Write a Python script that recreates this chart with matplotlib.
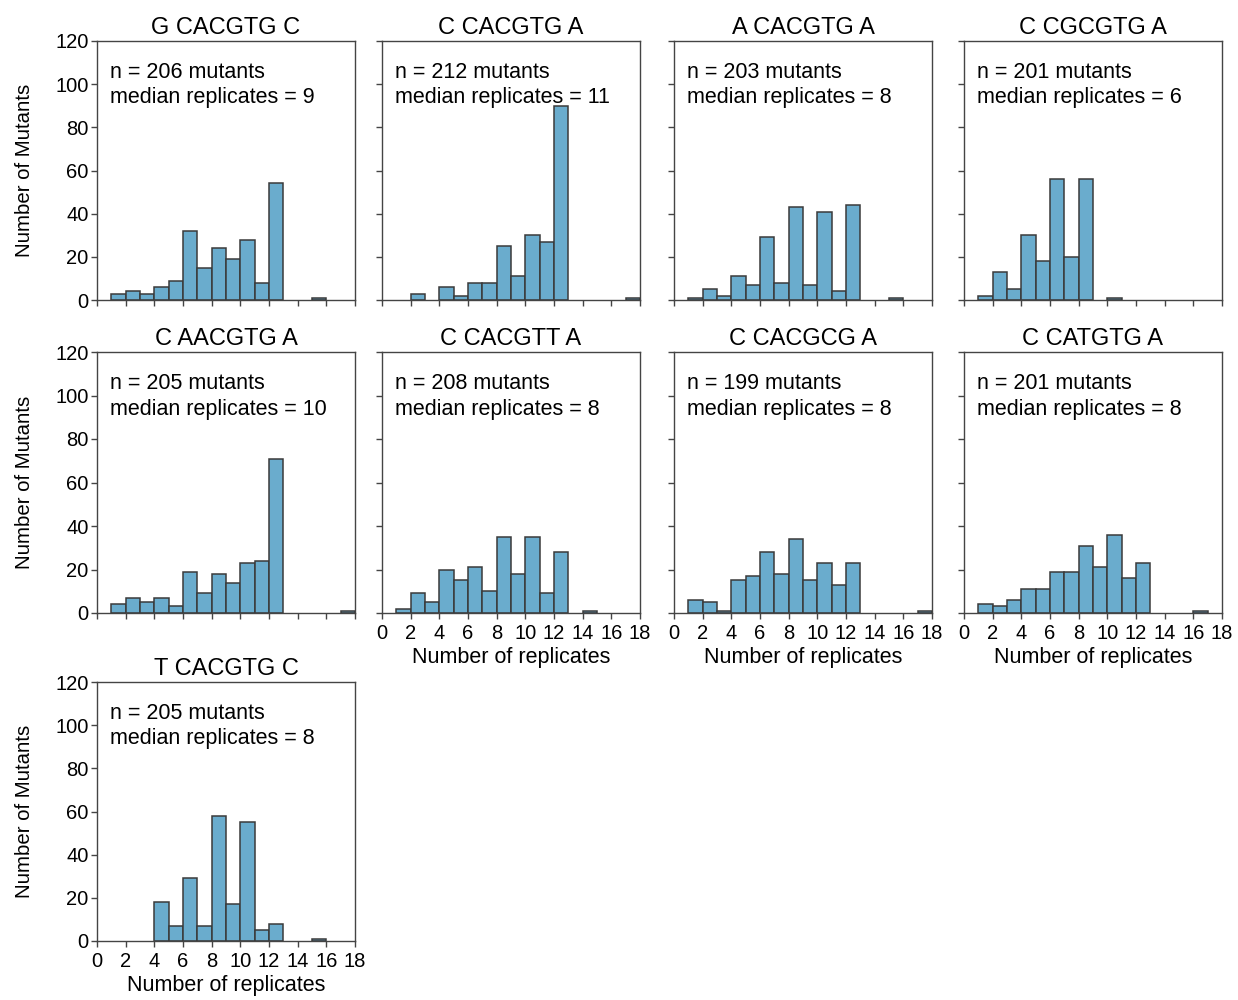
import numpy as np
import matplotlib
matplotlib.use('Agg')
import matplotlib.pyplot as plt

plt.rcParams['font.family'] = ['Liberation Sans', 'DejaVu Sans']

# Motif variants and mutant counts per replicate bin (bins 0-1, 1-2, ..., 17-18)
titles = ["G CACGTG C", "C CACGTG A", "A CACGTG A", "C CGCGTG A",
          "C AACGTG A", "C CACGTT A", "C CACGCG A", "C CATGTG A",
          "T CACGTG C"]
n_mutants = [206, 212, 203, 201, 205, 208, 199, 201, 205]
median_reps = [9, 11, 8, 6, 10, 8, 8, 8, 8]

bin_edges = np.arange(0, 19)
counts_gc = [0, 3, 4, 3, 6, 9, 32, 15, 24, 19, 28, 8, 54, 0, 0, 1, 0, 0]
counts_ca = [0, 0, 3, 0, 6, 2, 8, 8, 25, 11, 30, 27, 90, 0, 0, 0, 0, 1]
counts_aa = [0, 1, 5, 2, 11, 7, 29, 8, 43, 7, 41, 4, 44, 0, 0, 1, 0, 0]
counts_cgcg = [0, 2, 13, 5, 30, 18, 56, 20, 56, 0, 1, 0, 0, 0, 0, 0, 0, 0]
counts_aacg = [0, 4, 7, 5, 7, 3, 19, 9, 18, 14, 23, 24, 71, 0, 0, 0, 0, 1]
counts_cgtt = [0, 2, 9, 5, 20, 15, 21, 10, 35, 18, 35, 9, 28, 0, 1, 0, 0, 0]
counts_cgcg2 = [0, 6, 5, 1, 15, 17, 28, 18, 34, 15, 23, 13, 23, 0, 0, 0, 0, 1]
counts_catg = [0, 4, 3, 6, 11, 11, 19, 19, 31, 21, 36, 16, 23, 0, 0, 0, 1, 0]
counts_tc = [0, 0, 0, 0, 18, 7, 29, 7, 58, 17, 55, 5, 8, 0, 0, 1, 0, 0]

all_counts = [counts_gc, counts_ca, counts_aa, counts_cgcg, counts_aacg,
              counts_cgtt, counts_cgcg2, counts_catg, counts_tc]

W, H = 1238, 1000
fig = plt.figure(figsize=(W / 100, H / 100), dpi=100)

col_left = [97, 382, 674, 964]
row_top = [41, 352, 682]
row_bot = [300, 613, 941]
ax_w = 258

bar_color = '#6aaccd'
edge_color = '#3a3a3a'
spine_color = '#444444'

for i, (title, counts) in enumerate(zip(titles, all_counts)):
    r, c = divmod(i, 4)
    left = col_left[c] / W
    bottom = 1 - row_bot[r] / H
    height = (row_bot[r] - row_top[r]) / H
    ax = fig.add_axes([left, bottom, ax_w / W, height])

    counts = np.array(counts)
    keep = counts > 0
    ax.bar(bin_edges[:-1][keep], counts[keep], width=1, align='edge',
           color=bar_color, edgecolor=edge_color, linewidth=1.1, alpha=1)

    ax.set_xlim(0, 18)
    ax.set_ylim(0, 120)
    ax.set_xticks(np.arange(0, 19, 2))
    ax.set_yticks(np.arange(0, 121, 20))
    ax.tick_params(direction='out', length=4, width=1, colors=spine_color,
                   labelcolor='black', labelsize=14.5, pad=2)
    ax.tick_params(axis='x', pad=4)
    for sp in ax.spines.values():
        sp.set_color(spine_color)
        sp.set_linewidth(1)

    ax.set_title(title, fontsize=17, pad=5)

    ax.text(0.05, 0.88, f"n = {n_mutants[i]} mutants", transform=ax.transAxes,
            fontsize=15.5, va='center', ha='left')
    ax.text(0.05, 0.78, f"median replicates = {median_reps[i]}",
            transform=ax.transAxes, fontsize=15.5, va='center', ha='left')

    if c == 0:
        ax.set_ylabel("Number of Mutants", fontsize=14.7)
        ax.yaxis.set_label_coords(-0.245, 0.5)
    else:
        ax.set_yticklabels([])

    # x labels only where no panel sits below
    if i >= 5:
        ax.set_xlabel("Number of replicates", fontsize=15.5, labelpad=3)
    else:
        ax.set_xticklabels([])

fig.savefig('out.png', dpi=100)
